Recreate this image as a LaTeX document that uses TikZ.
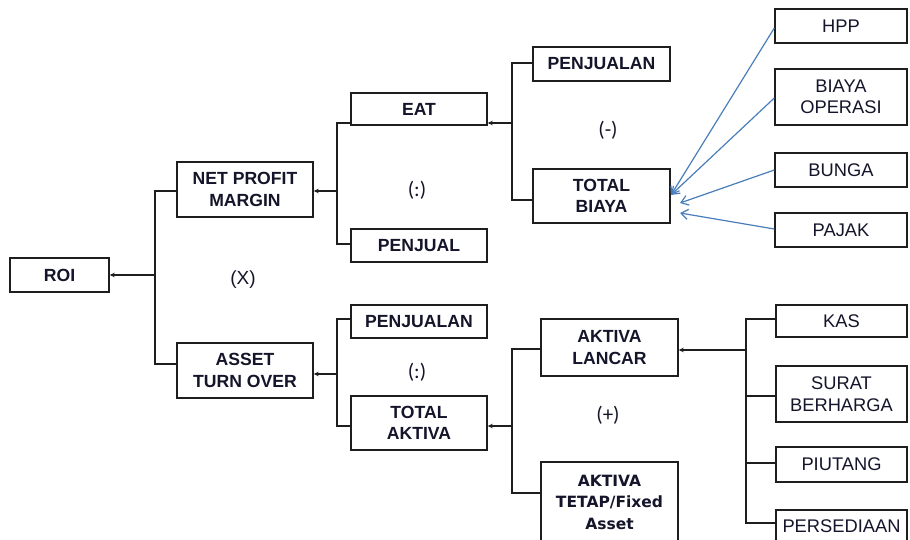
\documentclass[tikz,border=0pt]{standalone}
\usepackage{fontspec}
\setmainfont{Liberation Sans}
\newfontfamily\dejavu{DejaVu Sans}
\newfontfamily\carlito{Carlito}
\usetikzlibrary{arrows.meta}
\definecolor{lineblk}{HTML}{1E1E1E}
\definecolor{arrblue}{HTML}{4A7EBB}
\definecolor{txtdark}{HTML}{14142A}
\begin{document}
\begin{tikzpicture}[x=1pt,y=-1pt,
  bbox/.style={draw=lineblk, line width=1.4pt, align=center, inner sep=0pt,
    font=\fontsize{17.6}{21.5}\selectfont\bfseries, text=txtdark},
  rbox/.style={bbox, font=\fontsize{18.3}{21.5}\selectfont},
  conn/.style={draw=lineblk, line width=1.4pt},
  arr/.style={conn, -{Stealth[length=5pt,width=4.5pt]}},
  barr/.style={draw=arrblue, line width=1.2pt, -{Straight Barb[length=7pt,width=10pt]}},
  op/.style={font=\fontsize{19}{21}\selectfont, text=txtdark},
  opc/.style={font=\carlito\fontsize{21}{22}\selectfont, text=txtdark}]
\useasboundingbox (0,0) rectangle (910,540);
\fill[white] (0,0) rectangle (910,540);
\clip (0,0) rectangle (910,540);

% nodes
\node[bbox, minimum width=99pt, minimum height=34pt] (roi) at (59.5,275) {ROI};
\node[bbox, minimum width=136pt, minimum height=55pt] (npm) at (245,189.5) {NET PROFIT\\MARGIN};
\node[bbox, minimum width=136pt, minimum height=55pt] (ato) at (245,370.5) {ASSET\\TURN OVER};
\node[bbox, minimum width=136pt, minimum height=32pt] (eat) at (419,109) {EAT};
\node[bbox, minimum width=136pt, minimum height=33pt] (penjual) at (419,245.5) {PENJUAL};
\node[bbox, minimum width=137pt, minimum height=34pt] (pjl1) at (601.5,64) {PENJUALAN};
\node[bbox, minimum width=137pt, minimum height=54pt] (tbiaya) at (601.5,196) {TOTAL\\BIAYA};
\node[rbox, minimum width=132pt, minimum height=34pt] (hpp) at (841,26) {HPP};
\node[rbox, minimum width=132pt, minimum height=56pt] (bop) at (841,97) {BIAYA\\OPERASI};
\node[rbox, minimum width=132pt, minimum height=34pt] (bunga) at (841,170) {BUNGA};
\node[rbox, minimum width=132pt, minimum height=34pt] (pajak) at (841,230) {PAJAK};
\node[bbox, minimum width=136pt, minimum height=33pt] (pjl2) at (419,321.5) {PENJUALAN};
\node[bbox, minimum width=136pt, minimum height=54pt] (taktiva) at (419,423) {TOTAL\\AKTIVA};
\node[bbox, minimum width=137pt, minimum height=57pt] (alancar) at (609.5,347.5) {AKTIVA\\LANCAR};
\node[bbox, minimum width=137pt, minimum height=80pt, font=\dejavu\fontsize{15.5}{21.5}\selectfont\bfseries] (atetap) at (609.5,502) {AKTIVA\\TETAP/Fixed\\Asset};
\node[rbox, minimum width=131pt, minimum height=32pt] (kas) at (841.5,321) {KAS};
\node[rbox, minimum width=131pt, minimum height=56pt] (surat) at (841.5,394) {SURAT\\BERHARGA};
\node[rbox, minimum width=131pt, minimum height=35pt] (piutang) at (841.5,464.5) {PIUTANG};
\node[rbox, minimum width=131pt, minimum height=32pt] (persed) at (841.5,526) {PERSEDIAAN};

% operators
\node[op] (opx) at (243,280) {(X)};
\node[opc] (opd1) at (417,190) {(:)};
\node[opc] (opm) at (608,130) {(-)};
\node[opc] (opd2) at (417,372) {(:)};
\node[opc] (opp) at (608,415) {(+)};

% junctions
\coordinate (j1) at (155,275);
\coordinate (j2) at (337,191);
\coordinate (j3) at (512,123);
\coordinate (j4) at (337,374);
\coordinate (j5) at (512,426);
\coordinate (j6) at (746,350);

% tree connectors
\draw[conn] ([yshift=-1.5pt]npm.west) -| (j1) |- ([yshift=6.5pt]ato.west);
\draw[arr] (j1) -- (roi.east);

\draw[conn] ([yshift=-14pt]eat.west) -| (j2) |- ([yshift=1.5pt]penjual.west);
\draw[arr] (j2) -- (j2 -| npm.east);

\draw[conn] ([yshift=1pt]pjl1.west) -| (j3) |- ([yshift=-4pt]tbiaya.west);
\draw[arr] (j3) -- (j3 -| eat.east);

\draw[conn] ([yshift=2.5pt]pjl2.west) -| (j4) |- ([yshift=-3pt]taktiva.west);
\draw[arr] (j4) -- (j4 -| ato.east);

\draw[conn] ([yshift=-1.5pt]alancar.west) -| (j5) |- ([yshift=9pt]atetap.west);
\draw[arr] (j5) -- (j5 -| taktiva.east);

\draw[conn] ([yshift=2pt]kas.west) -| (j6) |- ([yshift=3pt]persed.west);
\draw[conn] ([yshift=-2pt]surat.west) -| (j6);
\draw[conn] ([yshift=1.5pt]piutang.west) -| (j6);
\draw[arr] (j6) -- (j6 -| alancar.east);

% blue arrows
\coordinate (t1) at (671,195);
\coordinate (t2) at (680,203);
\coordinate (t3) at (680,213);
\draw[barr] ([yshift=-2pt]hpp.west) -- (t1);
\draw[barr] ([yshift=-1pt]bop.west) -- (t1);
\draw[barr] (bunga.west) -- (t2);
\draw[barr] ([yshift=1pt]pajak.west) -- (t3);
\end{tikzpicture}
\end{document}
